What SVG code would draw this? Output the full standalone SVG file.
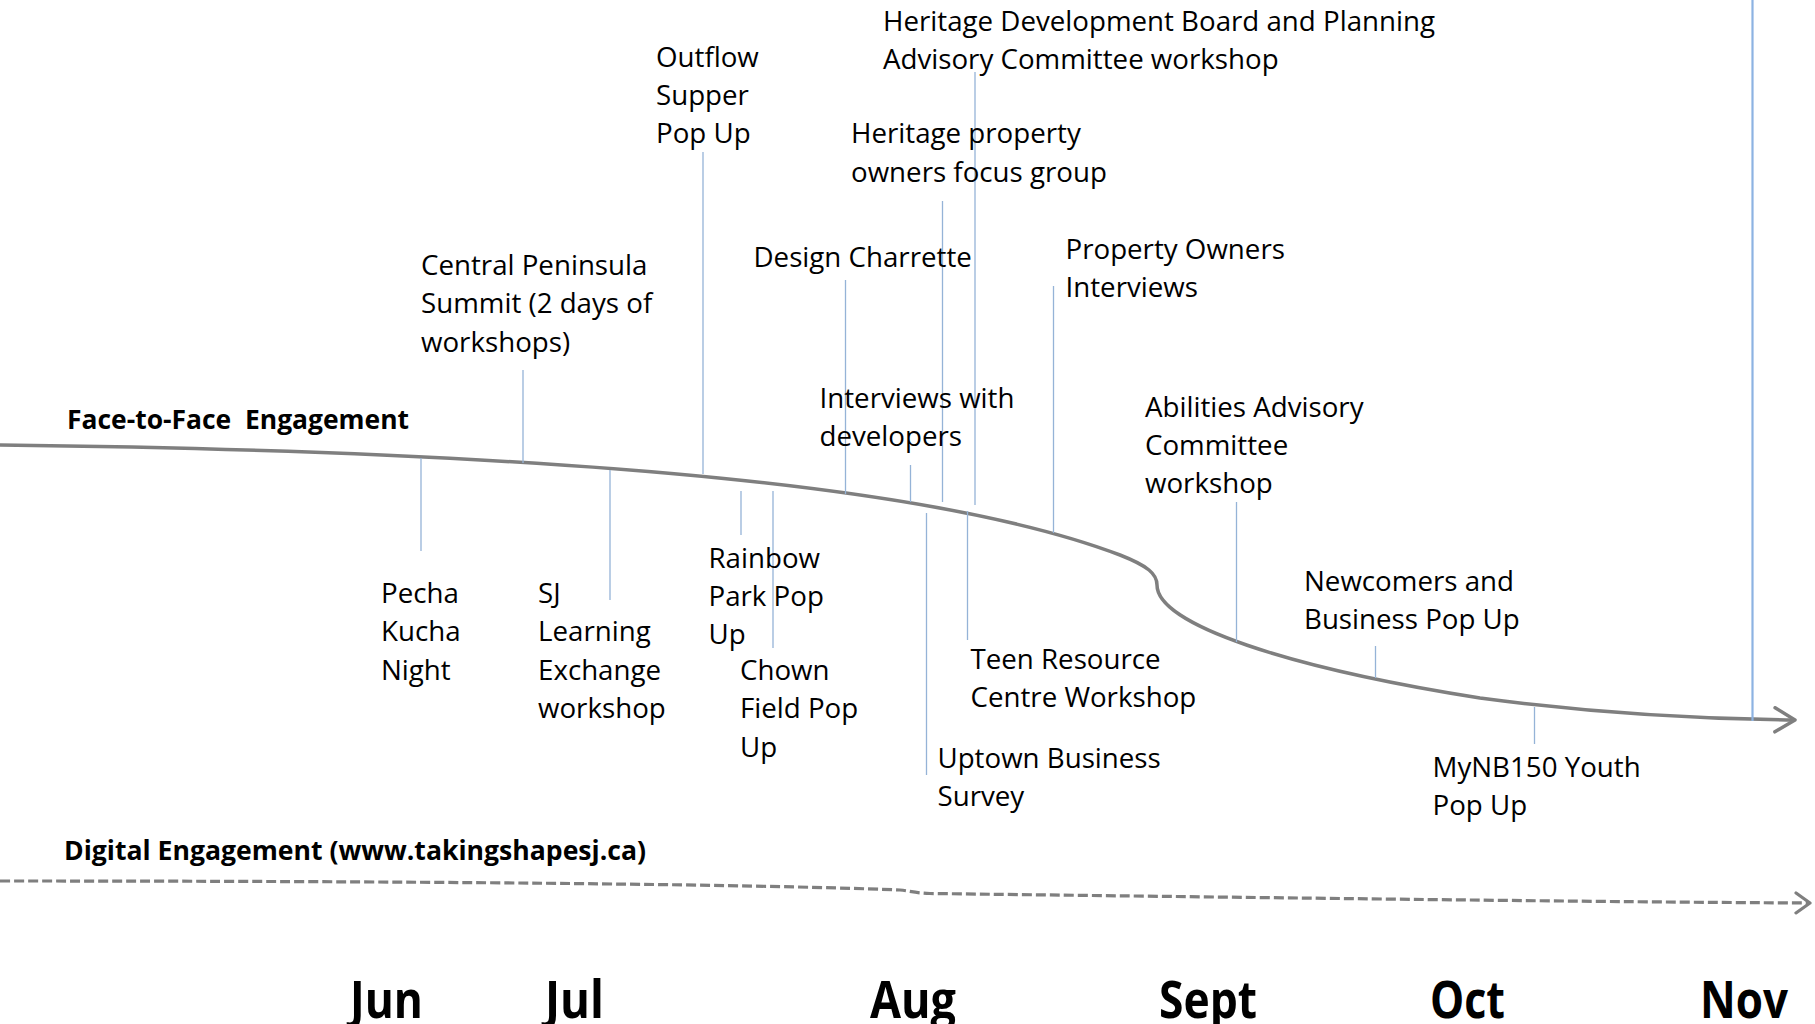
<svg xmlns="http://www.w3.org/2000/svg" width="1815" height="1024" viewBox="0 0 1815 1024">
  <style>
    .lbl { font-family: "Open Sans", "Liberation Sans", sans-serif; font-size: 27.7px; fill: #000; }
    .head { font-family: "Open Sans", "Liberation Sans", sans-serif; font-size: 26px; font-weight: 700; fill: #000; }
    .month { font-family: "Open Sans", "Liberation Sans", sans-serif; font-size: 52px; font-weight: 700; fill: #000; }
    .lead { stroke: #95b3d7; stroke-width: 1.3; fill: none; }
    .lead-strong { stroke: #8db3e2; stroke-width: 2.2; fill: none; }
    .track { stroke: #7f7f7f; stroke-width: 3.5; fill: none; }
    .track-dash { stroke: #7f7f7f; stroke-width: 3.2; fill: none; stroke-dasharray: 10 4; }
  </style>
  <defs>
    <marker id="arrow-solid" markerUnits="userSpaceOnUse" viewBox="0 0 24 28" refX="22" refY="14" markerWidth="24" markerHeight="28" orient="auto">
      <path d="M2,2 L22,14 L2,26" fill="none" stroke="#7f7f7f" stroke-width="3.5" stroke-linecap="round" stroke-linejoin="round"/>
    </marker>
    <marker id="arrow-dash" markerUnits="userSpaceOnUse" viewBox="0 0 18 24" refX="16" refY="12" markerWidth="18" markerHeight="24" orient="auto">
      <path d="M2,2 L16,12 L2,22" fill="none" stroke="#7f7f7f" stroke-width="3.2" stroke-linecap="round" stroke-linejoin="round"/>
    </marker>
  </defs>

  <rect width="1815" height="1024" fill="#fff"/>

  <!-- timeline tracks -->
  <g id="timelines">
    <path id="face-to-face-track" class="track" marker-end="url(#arrow-solid)"
          d="M0,445 C600,452 950,490 1120,555 C1148,566 1157,574 1157,585 C1157,625 1290,668 1480,698 C1600,714 1700,719 1795,720"/>
    <path id="digital-track" class="track-dash" marker-end="url(#arrow-dash)"
          d="M0,881 C400,881 750,884 900,890 C910,891 915,893 930,893.5 C1300,898 1600,902 1810,903"/>
  </g>

  <!-- leader lines from events to the track -->
  <g id="connectors">
    <line class="lead" x1="421" y1="458" x2="421" y2="551"/>
    <line class="lead" x1="523" y1="370" x2="523" y2="463"/>
    <line class="lead" x1="610" y1="470" x2="610" y2="600"/>
    <line class="lead" x1="703" y1="152" x2="703" y2="474"/>
    <line class="lead" x1="741" y1="491" x2="741" y2="535"/>
    <line class="lead" x1="773" y1="491" x2="773" y2="648"/>
    <line class="lead" x1="845.5" y1="280" x2="845.5" y2="494"/>
    <line class="lead" x1="910.5" y1="465" x2="910.5" y2="502"/>
    <line class="lead" x1="926.5" y1="513" x2="926.5" y2="775"/>
    <line class="lead" x1="942.5" y1="201" x2="942.5" y2="502"/>
    <line class="lead" x1="975" y1="72" x2="975" y2="505"/>
    <line class="lead" x1="967.5" y1="511" x2="967.5" y2="640"/>
    <line class="lead" x1="1053.5" y1="286" x2="1053.5" y2="533"/>
    <line class="lead" x1="1236.5" y1="502" x2="1236.5" y2="642"/>
    <line class="lead" x1="1375.5" y1="646" x2="1375.5" y2="678"/>
    <line class="lead" x1="1534.5" y1="707" x2="1534.5" y2="744"/>
    <line class="lead-strong" x1="1752.5" y1="0" x2="1752.5" y2="721"/>
  </g>

  <!-- track headings -->
  <g id="heading-face-to-face">
    <text class="head" x="67" y="429" xml:space="preserve" textLength="342" lengthAdjust="spacingAndGlyphs">Face-to-Face  Engagement</text>
  </g>
  <g id="heading-digital">
    <text class="head" x="64" y="860" textLength="582" lengthAdjust="spacingAndGlyphs">Digital Engagement (www.takingshapesj.ca)</text>
  </g>

  <!-- events above the track -->
  <g id="event-heritage-board">
    <text class="lbl" x="883" y="30.5"><tspan x="883">Heritage Development Board and Planning</tspan><tspan x="883" dy="38">Advisory Committee workshop</tspan></text>
  </g>
  <g id="event-outflow">
    <text class="lbl" x="656" y="66.5"><tspan x="656">Outflow</tspan><tspan x="656" dy="38.3">Supper</tspan><tspan x="656" dy="38.3">Pop Up</tspan></text>
  </g>
  <g id="event-heritage-owners">
    <text class="lbl" x="851" y="143.3"><tspan x="851">Heritage property</tspan><tspan x="851" dy="38.3">owners focus group</tspan></text>
  </g>
  <g id="event-design-charrette">
    <text class="lbl" x="753.5" y="266.7">Design Charrette</text>
  </g>
  <g id="event-property-owners">
    <text class="lbl" x="1065.5" y="258.8"><tspan x="1065.5">Property Owners</tspan><tspan x="1065.5" dy="38.3">Interviews</tspan></text>
  </g>
  <g id="event-central-peninsula">
    <text class="lbl" x="421" y="274.5"><tspan x="421">Central Peninsula</tspan><tspan x="421" dy="38.5">Summit (2 days of</tspan><tspan x="421" dy="38.5">workshops)</tspan></text>
  </g>
  <g id="event-developers">
    <text class="lbl" x="819.5" y="407.8"><tspan x="819.5">Interviews with</tspan><tspan x="819.5" dy="38.3">developers</tspan></text>
  </g>
  <g id="event-abilities">
    <text class="lbl" x="1145" y="416.7"><tspan x="1145">Abilities Advisory</tspan><tspan x="1145" dy="38.3">Committee</tspan><tspan x="1145" dy="38.3">workshop</tspan></text>
  </g>

  <!-- events below the track -->
  <g id="event-pecha-kucha">
    <text class="lbl" x="381" y="603"><tspan x="381">Pecha</tspan><tspan x="381" dy="38.3">Kucha</tspan><tspan x="381" dy="38.3">Night</tspan></text>
  </g>
  <g id="event-sj-learning">
    <text class="lbl" x="538" y="603"><tspan x="538">SJ</tspan><tspan x="538" dy="38.3">Learning</tspan><tspan x="538" dy="38.3">Exchange</tspan><tspan x="538" dy="38.3">workshop</tspan></text>
  </g>
  <g id="event-rainbow-park">
    <text class="lbl" x="708.5" y="567.5"><tspan x="708.5">Rainbow</tspan><tspan x="708.5" dy="38.3">Park Pop</tspan><tspan x="708.5" dy="38.3">Up</tspan></text>
  </g>
  <g id="event-chown-field">
    <text class="lbl" x="740" y="680"><tspan x="740">Chown</tspan><tspan x="740" dy="38.3">Field Pop</tspan><tspan x="740" dy="38.3">Up</tspan></text>
  </g>
  <g id="event-teen-resource">
    <text class="lbl" x="970.5" y="668.8"><tspan x="970.5">Teen Resource</tspan><tspan x="970.5" dy="38.3">Centre Workshop</tspan></text>
  </g>
  <g id="event-uptown-survey">
    <text class="lbl" x="937.5" y="767.8"><tspan x="937.5">Uptown Business</tspan><tspan x="937.5" dy="38.3">Survey</tspan></text>
  </g>
  <g id="event-newcomers">
    <text class="lbl" x="1304" y="591"><tspan x="1304">Newcomers and</tspan><tspan x="1304" dy="38.3">Business Pop Up</tspan></text>
  </g>
  <g id="event-mynb150">
    <text class="lbl" x="1432.5" y="776.7"><tspan x="1432.5">MyNB150 Youth</tspan><tspan x="1432.5" dy="38.3">Pop Up</tspan></text>
  </g>

  <!-- month axis -->
  <g id="months">
    <text class="month" x="350" y="1018" textLength="73" lengthAdjust="spacingAndGlyphs">Jun</text>
    <text class="month" x="545" y="1018" textLength="59" lengthAdjust="spacingAndGlyphs">Jul</text>
    <text class="month" x="870" y="1018" textLength="86" lengthAdjust="spacingAndGlyphs">Aug</text>
    <text class="month" x="1159" y="1018" textLength="98" lengthAdjust="spacingAndGlyphs">Sept</text>
    <text class="month" x="1430" y="1018" textLength="75" lengthAdjust="spacingAndGlyphs">Oct</text>
    <text class="month" x="1700" y="1018" textLength="88" lengthAdjust="spacingAndGlyphs">Nov</text>
  </g>
</svg>
